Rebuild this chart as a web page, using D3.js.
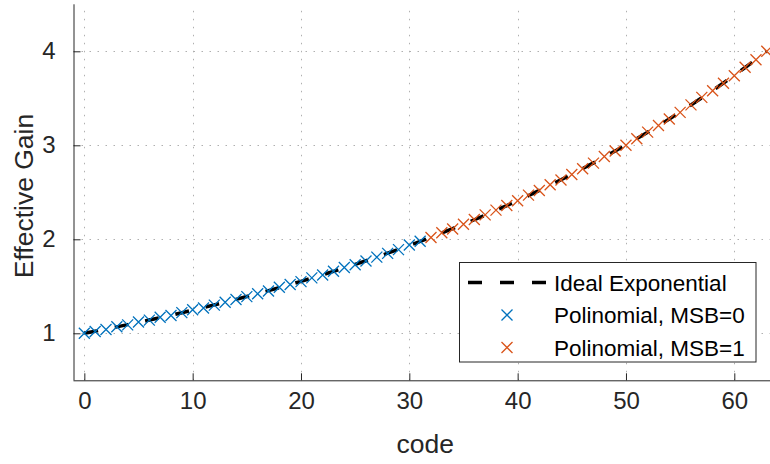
<!DOCTYPE html>
<html><head><meta charset="utf-8">
<script src="https://cdn.jsdelivr.net/npm/d3@7"></script>
<style>html,body{margin:0;padding:0;background:#fff;}svg{display:block;}</style>
</head><body>
<svg id="chart" width="770" height="464"></svg>
<script>
const codes = [0,1,2,3,4,5,6,7,8,9,10,11,12,13,14,15,16,17,18,19,20,21,22,23,24,25,26,27,28,29,30,31,
  32,33,34,35,36,37,38,39,40,41,42,43,44,45,46,47,48,49,50,51,52,53,54,55,56,57,58,59,60,61,62,63];
const idealGain = [1.000,1.022,1.045,1.068,1.092,1.116,1.141,1.167,1.192,1.219,1.246,1.274,1.302,1.331,1.361,1.391,
  1.422,1.454,1.486,1.519,1.553,1.587,1.623,1.659,1.696,1.733,1.772,1.811,1.852,1.893,1.935,1.978,
  2.022,2.067,2.113,2.160,2.208,2.257,2.308,2.359,2.411,2.465,2.520,2.576,2.633,2.692,2.752,2.813,
  2.875,2.939,3.005,3.072,3.140,3.210,3.281,3.354,3.429,3.505,3.583,3.663,3.744,3.828,3.913,4.000];
const codesMsb0 = codes.slice(0, 32);
const codesMsb1 = codes.slice(32);
const polyMsb0 = [1.00,1.02,1.04,1.07,1.09,1.12,1.14,1.17,1.19,1.22,1.25,1.27,1.30,1.33,1.36,1.39,
  1.42,1.45,1.49,1.52,1.55,1.59,1.62,1.66,1.70,1.73,1.77,1.81,1.85,1.89,1.94,1.98];
const polyMsb1 = [2.02,2.07,2.11,2.16,2.21,2.26,2.31,2.36,2.41,2.47,2.52,2.58,2.63,2.69,2.75,2.81,
  2.88,2.94,3.00,3.07,3.14,3.21,3.28,3.35,3.43,3.51,3.58,3.66,3.74,3.83,3.91,4.00];
const xTicks = [0,10,20,30,40,50,60];
const yTicks = [1,2,3,4];
const seriesNames = ["Ideal Exponential","Polinomial, MSB=0","Polinomial, MSB=1"];
const colors = ["#000000","#0072BD","#D95319"];

const svg = d3.select("#chart");
const L = 73.5, R = 766.8, T = 4.3, B = 380.3;
const x = d3.scaleLinear().domain([-1, 63]).range([L, R]);
const y = d3.scaleLinear().domain([0.5, 4.5]).range([B, T]);
const axisCol = "#262626";
const font = "'Liberation Sans', Arial, Helvetica, sans-serif";

// grid
const grid = svg.append("g").attr("stroke", "#b0b0b0").attr("stroke-width", 1).attr("stroke-dasharray", "1.5,6.5");
grid.selectAll(".gx").data(xTicks).join("line")
  .attr("x1", d => Math.round(x(d)) + 0.5).attr("x2", d => Math.round(x(d)) + 0.5)
  .attr("y1", B).attr("y2", T);
grid.selectAll(".gy").data(yTicks).join("line")
  .attr("y1", d => Math.round(y(d)) + 0.5).attr("y2", d => Math.round(y(d)) + 0.5)
  .attr("x1", L).attr("x2", R + 4);

// axes
const xAxis = d3.axisBottom(x).tickValues(xTicks).tickFormat(d3.format("d")).tickSize(-7).tickPadding(24).tickSizeOuter(0);
const gx = svg.append("g").attr("transform", `translate(0,${B})`).call(xAxis);
gx.select(".domain").attr("stroke", axisCol).attr("d", `M${L},0.5H770`);
gx.selectAll(".tick line").attr("stroke", axisCol);
gx.selectAll(".tick text").attr("font-family", font).attr("font-size", 24).attr("fill", axisCol).attr("dy", "0.2em");

const yAxis = d3.axisLeft(y).tickValues(yTicks).tickFormat(d3.format("d")).tickSize(-7).tickPadding(18).tickSizeOuter(0);
const gy = svg.append("g").attr("transform", `translate(${L},0)`).call(yAxis);
gy.select(".domain").attr("stroke", axisCol).attr("d", `M0.5,${B}V${T}`);
gy.selectAll(".tick line").attr("stroke", axisCol);
gy.selectAll(".tick text").attr("font-family", font).attr("font-size", 24).attr("fill", axisCol);

// labels
svg.append("text").attr("x", (L + R) / 2 + 5).attr("y", 453).attr("text-anchor", "middle")
  .attr("font-family", font).attr("font-size", 26.5).attr("fill", axisCol).text("code");
svg.append("text").attr("transform", `translate(33,${196}) rotate(-90)`).attr("text-anchor", "middle")
  .attr("font-family", font).attr("font-size", 26.5).attr("fill", axisCol).text("Effective Gain");

// ideal line
const line = d3.line().x(d => x(d[0])).y(d => y(d[1]));
svg.append("path").datum(codes.map((c, i) => [c, idealGain[i]]))
  .attr("d", line).attr("fill", "none").attr("stroke", colors[0]).attr("stroke-width", 3.5)
  .attr("stroke-dasharray", "14,17");

// markers
function crosses(cx, vals, color) {
  const s = 5.5;
  svg.append("g").selectAll("path").data(cx.map((c, i) => [c, vals[i]])).join("path")
    .attr("d", d => { const px = x(d[0]), py = y(d[1]);
      return `M${px - s},${py - s}L${px + s},${py + s}M${px - s},${py + s}L${px + s},${py - s}`; })
    .attr("stroke", color).attr("stroke-width", 1.3).attr("fill", "none");
}
crosses(codesMsb0, polyMsb0, colors[1]);
crosses(codesMsb1, polyMsb1, colors[2]);

// legend
const lg = svg.append("g");
lg.append("rect").attr("x", 459.5).attr("y", 262.5).attr("width", 296.5).attr("height", 99.5)
  .attr("fill", "#fff").attr("stroke", "#262626").attr("stroke-width", 1);
const rows = [282.5, 315, 347.5];
lg.append("line").attr("x1", 468).attr("x2", 547).attr("y1", rows[0]).attr("y2", rows[0])
  .attr("stroke", colors[0]).attr("stroke-width", 3.5).attr("stroke-dasharray", "14,18");
[1, 2].forEach(k => {
  const px = 507, py = rows[k], s = 5.5;
  lg.append("path").attr("d", `M${px - s},${py - s}L${px + s},${py + s}M${px - s},${py + s}L${px + s},${py - s}`)
    .attr("stroke", colors[k]).attr("stroke-width", 1.3);
});
seriesNames.forEach((n, k) => {
  lg.append("text").attr("x", 554).attr("y", rows[k]).attr("dy", "0.36em")
    .attr("font-family", font).attr("font-size", 22.5).attr("fill", "#000").text(n);
});
</script>
</body></html>
